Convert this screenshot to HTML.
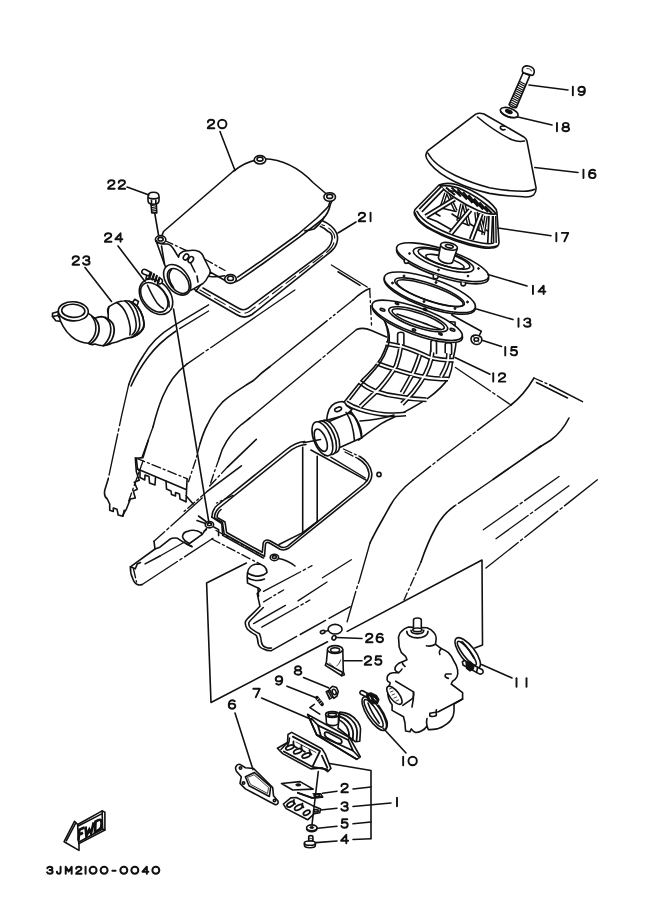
<!DOCTYPE html>
<html><head><meta charset="utf-8"><title>3JM2100-0040</title>
<style>
html,body{margin:0;padding:0;background:#fff;}
body{width:661px;height:913px;overflow:hidden;font-family:"Liberation Sans",sans-serif;}
svg{display:block;}
.l{fill:none;stroke:#111;stroke-width:1.6;stroke-linecap:round;stroke-linejoin:round;}
.w{fill:#fff;stroke:#111;stroke-width:1.6;stroke-linecap:round;stroke-linejoin:round;}
.k{fill:#111;stroke:#111;stroke-width:1;stroke-linejoin:round;}
.d{fill:none;stroke:#111;stroke-width:1.35;stroke-linecap:round;stroke-dasharray:42 3 2.5 3;}
.d2{fill:none;stroke:#111;stroke-width:1.35;stroke-linecap:round;stroke-dasharray:9 3 2 3;}
.h{fill:none;stroke:#111;stroke-width:0.8;stroke-linecap:round;}
.b{fill:none;stroke:#111;stroke-width:1.8;stroke-linecap:round;stroke-linejoin:round;}
.t{fill:none;stroke:#111;stroke-linecap:round;stroke-linejoin:round;}
.wf{fill:#fff;stroke:none;}
</style></head><body>
<svg width="661" height="913" viewBox="0 0 661 913">
<rect x="0" y="0" width="661" height="913" fill="#fff"/>
<!-- 10_body.svg -->
<g id="body">
<!-- left panel outer edge (L1) and inner parallel (L2) -->
<path class="d" d="M208.6,304.8 L172.3,326.6"/>
<path class="l" d="M172.3,326.6 C160,334 150,344 143.300,355.700 C137,365 132,375 128.700,384.700"/>
<path class="d" d="M128.700,384.700 L121.500,416.200 L108.200,479.100"/>
<path class="l" d="M108.200,479.100 L104.800,490 C104,494 105,497.500 107.300,499 L109.700,504 L109.700,510.200 L113.300,511.400 L113.300,508 L117,509.200 L118.200,515 L123,516.300 L124.200,510.200"/>
<path class="d" d="M208.6,311 L179.6,328.6"/>
<path class="l" d="M176,331 C165,338.500 156,346.500 148.500,356.500 C142,365 136,375 131,386"/>
<!-- L3 -->
<path class="d" style="stroke-dasharray:102 3 2.5 3" d="M294.8,290 L186.8,364.1"/>
<path class="l" d="M186.800,364.100 C175,373 168,384 162.600,396.800 C158,408 155.500,417 153,427"/>
<path class="d" d="M153,427 L142,457.300"/>
<!-- left panel step & teeth -->
<path class="d2" d="M136.300,458.200 L187.100,478.700"/>
<path class="l" d="M148.400,440 L143,457.600 L136.300,458.200 L137.500,469 L186,489.600 M187.100,478.700 L186,501.700 M186,495.700 L193.200,504"/>
<path class="l" d="M137.500,469 L140,471.500 L140,477.500 L144.800,480 L145,475 L149,476.500 L149.500,483 L155,485 L155.500,477.500 M166,481 L166.500,489 L171,491 L171.500,494.500 L175.500,496 L175.500,492.500 L179.500,494 L180,499 L186,501.700"/>
<path class="l" d="M135.300,457.700 L136.300,471.500 L139.200,480.300 L134.300,482.300 L137.300,489.200 L133.300,491.100 L135.300,498 L130.400,499 L126.500,508.800 L122.500,515.700"/>
<path class="d2" d="M143,461 L128.700,501"/>
<!-- L4 -->
<path class="d" d="M331.400,265 L369.700,288.600"/>
<path class="l" d="M338,271.800 L360,285.400"/>
<path class="d2" d="M369.700,288.600 L371.500,325"/>
<path class="l" d="M369.700,288.600 C366,290 360,293.500 353,300"/>
<path class="d" style="stroke-dasharray:20 3 2 3 2 3 100" d="M353,300 L270,366.500"/>
<path class="l" d="M270,366.500 C261,373 257,377 254.100,380 C242,388 231,394 222.400,402.200 C216,409 211,417 207.500,424.500 C204,431 202,437 200.100,443.500"/>
<path class="d2" d="M200.100,443.500 L195.900,459.400 L188.500,481.700"/>
<!-- L5 -->
<path class="l" d="M386.500,337 L371.500,330.500 C366,328 361.500,327.500 356.600,329.500"/>
<path class="d" style="stroke-dasharray:38 3 2.5 3 120" d="M356.600,329.500 L249.800,418"/>
<path class="l" d="M249.800,418 C246,421 243,423.500 241.400,424.500 C235,430 230,436 226.600,441.400 C223,447 220.500,453 219.200,458.400"/>
<path class="d2" d="M219.200,458.400 L213.900,473.200 L209.700,485.900"/>
<!-- L8 -->
<path class="d" d="M455.500,367.500 L511,405"/>
<!-- L9 -->
<path class="l" d="M511,405 C520,398 528,388 534,378"/>
<path class="d2" d="M534,378 L550,385"/>
<path class="l" d="M550,385 L582.500,401.600 M536.500,382.500 L567.500,398"/>
<!-- L10 -->
<path class="d" d="M511,405 L441,458 L413,480"/>
<path class="l" d="M413,480 C403,488 395,497 390,506 C383,519 376,530 370,543"/>
<path class="d" d="M370,543 L359.500,580 L356.200,590 L347.100,621.800"/>
<!-- L11 -->
<path class="l" d="M569,418 C565,426 559,434 551,440 C547,442.500 543,445 539,447.500"/>
<path class="l" d="M539,447.500 L493,479.500 M541,446 L495,478"/>
<path class="d" d="M493,479.500 L454,506.400"/>
<path class="l" d="M454,506.400 C446,512 441,518 436,527 C430,538 425,550 421,562"/>
<path class="d2" d="M421,562 L413,580 L404,600"/>
<!-- short lines -->
<path class="d" d="M559,476.500 L481,531.400"/>
<path class="d" d="M569,485.800 L496,538.700"/>
<path class="d" d="M597.400,479.800 L486,568"/>
<!-- callout box -->
<path class="l" d="M246.400,563 L206.600,583 L211,702.500 L327.500,641.800 M347.200,631.400 L482,560 L482.500,645 L474.800,648"/>
</g>

<!-- 20_tray.svg -->
<g id="tray">
<!-- outer dash-dot line above tray (left) -->
<path class="l" d="M256.300,439.300 L227.700,466.800"/><path class="d2" d="M227.700,466.800 L209.700,485.900"/><path class="l" d="M241.400,465.800 L207.500,491.200"/><path class="d2" d="M207.500,491.200 L184.200,511.300"/><path class="d2" d="M233,495.400 L216.500,503"/>
<!-- tray frame: 3 parallel lines -->
<path class="l" d="M304.800,441.500 C298,442 292,445 286,450 L217,505.500 C213.500,508.500 212,512 211.800,517.200"/>
<path class="l" d="M306,444.500 C299.500,445 294,447.500 288,452.500 L219.500,507.500 C216,510.500 214.500,513.500 214.500,518 L222.500,522.500 L224.200,534 L264.500,556.300 L265.500,544 C266,542.500 267.500,542 269,542.800 L280,549.300 C283,550.500 286,550 289,548 L366,486 C370,482.500 372.300,478 371.700,473 C371,466.500 366,460 359.900,456.500"/>
<path class="l" d="M221,509.500 C218,512 217,515 217.200,517.500 L225,522 L226.600,532.500 L262.300,552.300 L263.200,543 C264,540 267,539.300 270,540.800 L281,547 C283.500,548 285.500,547.500 288,545.800 L364,484 C367.500,481 369.300,477.500 369,473.500 C368.300,468 364,462 358,458.500"/>
<path class="l" d="M211.800,517.200 L221.800,523.600 L222.700,535.400 L263.500,558"/>
<path class="d2" d="M343.500,449 L359.900,456.500"/>
<path class="d2" d="M345,452 L358,458.500"/>
<!-- inside box -->
<path class="l" d="M302.700,447.200 L302.700,532.600 M317.200,456.300 L317.200,521.700 M310.900,450 L367,480.600"/>
<path class="l" d="M279,544.500 L302.700,532.600 M302.700,532.600 L317.200,521.700"/>
<path class="d" d="M330.800,457.200 L365.300,478"/>
<circle class="l" cx="379" cy="474.500" r="2.100"/>
<!-- front dashed double line -->
<path class="d2" d="M211.800,539 L260.800,564.400"/>
<path class="d2" d="M216,530.500 L258,553"/>
<!-- lugs -->
<ellipse class="w" cx="209.400" cy="524.700" rx="4.200" ry="3.200"/><ellipse class="l" cx="209.400" cy="524.300" rx="2" ry="1.400"/>
<ellipse class="w" cx="274.400" cy="557.400" rx="4.200" ry="3.200"/><ellipse class="l" cx="274.400" cy="557" rx="2" ry="1.400"/>
<path class="l" d="M278.500,558.500 C284,559.500 290,562 295,566"/>
<!-- bump -->
<path class="w" d="M247.500,573 C248,567.500 252,564.200 257.500,564 C263,564 267,567.500 267,572.500 C263,576.500 255,578 247.500,573 Z"/>
<path class="l" d="M247.500,573 L247.200,577.500 C252,581 259,581.500 264.500,579 M247.200,577.500 L247.500,583 L258,588 L258.500,596.500"/>
<!-- left bracket arm -->
<path class="d" d="M202.200,498 L154,541.300"/>
<path class="l" d="M154,541.300 L155,549 L159.900,547.200 L169.700,539.300 C172,538 175,537.800 177.600,538.300 L183.500,542.300 L191.400,546.200"/>
<path class="b" d="M186.500,544 L192,546.600"/>
<path class="l" d="M155,549 L130.400,566.800 L135.300,568.800 L137.300,563.900 L140.500,562.500"/>
<path class="l" d="M130.400,566.800 C130.300,571 131,575 132.400,577.700 C133.500,581 135,583.500 137.300,584.500 C139,585.200 140.800,585 142.200,584.500"/>
<path class="d" d="M142.200,584.500 L213,538.300"/>
<path class="d2" d="M133.500,569 L136.500,582"/>
<path class="l" d="M145.100,563.900 L160,556"/>
<path class="d" d="M160,556 L206.500,529.600"/>
<path class="w" d="M182.500,536.400 C183,533.500 185,531.800 187.400,531.400 C190,530.300 193,530 195.300,530.500 C198.500,531 201,532.500 202.200,534.400 L189.500,543.500 C186,541.800 183,539.500 182.500,536.400 Z"/>
<path class="l" d="M202.200,534.400 L206.500,528.500 M213.800,527 L218.600,529.600 L218.600,535.600"/>
<path class="l" d="M198.500,516 L206,521.500 M197,520.500 L205.500,523.500"/>
</g>
<g id="lowertray">
<path class="l" d="M258.500,588 L260.500,590 L257.200,593.600 L260,606.300 L250.900,615.400 C248,618 246,620 245.400,621.800 C245,624.500 245.800,627 247.300,629 C249.500,631.500 253,633.500 256.300,635.400 C257.500,638 258,641 258.200,643.600 C259,646.500 261,648.300 263.600,649 C266,650.300 268.500,650.800 270.900,650.800"/>
<path class="l" d="M263.300,607.500 L253.800,617 C251,619.500 249.300,621.500 248.800,623 C248.600,625 249.300,626.800 250.500,628 C252.500,630 256,631.800 259.500,633.800 C260.700,636.500 261.200,639.500 261.500,642.500 C262,645 263.500,646.500 265.500,647.200 C267.500,648 269.500,648.300 271.500,648"/>
<path d="M270.900,650.800 L350.700,606.300" fill="none" stroke="#111" stroke-width="1.500" stroke-dasharray="30 3"/>
<path class="d" d="M261.800,627.200 L309.900,600"/>
<path class="d" d="M253.600,623.600 L285.400,605.400"/>
<path class="d2" d="M263.600,601.800 L283.600,590"/>
<path class="d" d="M263.500,591.400 L312,565.700"/>
<path class="d" d="M298,600.900 L327,582"/>
<path class="d" d="M322.500,577.800 L351.300,559.700"/>
</g>

<!-- 30_cover.svg -->
<g id="gasket21">
<path class="l" d="M196,291 L236.5,314.5 C241,317.5 247,318 252,314.5 L331,251.5 C337,246.5 339,239 336.5,233 C334,227.5 329,223.5 322,220.5"/>
<path d="M199.5,289.8 L237.8,311.6 C241.5,313.8 246,314 250,311 L327,252 C332.5,247.5 335.500,242 334.500,236 C333.500,231.500 329,227 321.500,224.500" fill="none" stroke="#111" stroke-width="1.100" stroke-dasharray="13 4"/>
<path class="l" d="M203,288 L239,308.500 C242,310.300 245.500,310 248.500,307.800 L323,252.600 C328,249 331.500,244 332.100,239 C332.300,235 330.500,232.500 328.500,231.800 C326,229.500 323,227.500 320.300,226.300"/>
</g>
<g id="cover20">
<path class="w" d="M160.600,239.600 L163.5,231.5 L233,171.5 C242,164.5 250,161 257,160 L264,158.8 C284,159.5 300,169 313,182.5 L327,194.5 L333,199 L330.300,204.500 C329.500,209 327,214.500 323,219 L299.400,237.200 L263.100,263.500 L239.500,279.900 C237,281.500 235,282 233,282 L226,281 L210,272 L196,291 L172,262 L166,248 Z"/>
<path class="l" d="M237.700,277.100 L261.300,260.800 L297.600,234.500 L315.800,219 C321,214 326,209.500 328.500,206.300 L330,201.500"/>
<path class="l" d="M304.900,230.900 C308,230.500 311,230 314,229 C318,226 321.500,222 324,217.200"/>
<path class="d2" d="M164.5,240.5 L186,250.3 M204.5,259 L225,270.5"/>
<!-- lugs -->
<ellipse class="w" cx="260" cy="159.8" rx="5.8" ry="4.2"/><ellipse class="l" cx="260" cy="159.2" rx="3" ry="1.9"/>
<ellipse class="w" cx="329.7" cy="197" rx="5.8" ry="4.3"/><ellipse class="l" cx="329.7" cy="196.4" rx="3" ry="2"/>
<ellipse class="w" cx="230.5" cy="279" rx="5.8" ry="4.4"/><ellipse class="l" cx="230.5" cy="278.4" rx="3" ry="2.1"/>
<ellipse class="w" cx="160.6" cy="239.6" rx="5.2" ry="4"/><ellipse class="l" cx="160.6" cy="239.2" rx="2.6" ry="1.8"/>
<!-- outlet tube -->
<path class="w" d="M156,240.6 C157.5,243.5 161,244.3 167.5,244 C170.5,244.5 172.5,247 174.5,250.5 L178.5,257.2 L179.3,254.3 C182,251.500 185,250.500 188,250.700 C192,249.800 196,250.200 199,251.500 C201.500,252.800 203,255 203.800,257.700 L210,270 C210.500,272.500 209.800,274.500 208.500,276 C207,279 205.500,281.500 203,283.500 L190.800,290.400 L165,265.800 Z"/>
<path class="l" d="M208.500,276.200 C214,277.200 220,276.800 224.500,275.800"/>
<ellipse class="w" cx="177.2" cy="279.8" rx="17.2" ry="11.1" transform="rotate(53 177.2 279.8)"/>
<ellipse class="l" cx="178.3" cy="281" rx="14.1" ry="8.6" transform="rotate(53 178.3 281)"/>
<path class="l" d="M171.5,269.5 C167.5,274 168.5,281 173.5,287.5"/>
<path class="l" d="M190,262 L195,272 M198,282 L197,276"/>
<ellipse class="w" cx="186" cy="257" rx="2.3" ry="3.3" transform="rotate(35 186 257)"/>
<ellipse class="w" cx="190.8" cy="259.6" rx="2.3" ry="3.3" transform="rotate(35 190.8 259.6)"/>
</g>
<g id="screw22">
<path class="w" d="M150.900,203.500 L156.300,203.500 L156.800,213 L151.800,213 Z"/>
<path d="M151,205.200 L156.400,206.200 M151.200,207.400 L156.500,208.400 M151.400,209.600 L156.600,210.600 M151.600,211.800 L156.700,212.600" fill="none" stroke="#111" stroke-width="1.100"/>
<path class="w" stroke-width="1.800" d="M148,196.500 C148,193.500 150.500,192.300 153.500,192.300 C156.500,192.300 159,193.500 159,196.500 L159,200.500 C159,203 156.500,204.200 153.500,204.200 C150.500,204.200 148,203 148,200.500 Z"/>
<path class="l" d="M148.300,197.500 C150,199.300 157,199.300 158.800,197.500 M151.500,199 L151.500,203.800 M155.800,199 L155.800,203.800"/>
</g>
<path id="longline" class="l" d="M154.800,213.500 L158.600,235.500 M161.5,246 L164.5,264 M173.5,309 L209,523" />

<!-- 32_clamp_elbow.svg -->
<g id="clamp24">
<ellipse class="w" stroke-width="1.900" cx="156" cy="296.800" rx="19.800" ry="14.200" transform="rotate(50 156 296.800)"/>
<ellipse class="l" cx="154.300" cy="297.300" rx="17" ry="10.800" transform="rotate(50 154.300 297.300)"/>
<path class="l" d="M147.500,285.300 C150,291 153.500,298 157.500,303.600 C159.500,306 161.500,307.800 163.300,308.600"/>
<path class="l" d="M157.500,284.500 C161.500,288 165,292.500 167.400,297 C169,300.500 169.500,304 169.100,306.900"/>
<!-- screw -->
<path class="w" stroke-width="1.800" d="M142,270.800 C142.800,269.300 144.500,269 146,269.800 L150.500,272.300 L148.800,276 L143.500,274 C142,273.300 141.500,272 142,270.800 Z"/>
<path class="l" d="M146.600,276 L146,279 L150,278"/>
<path d="M151.300,272.800 L149.500,277.500 M154,274.300 L152.200,279.500 M156.800,276 L155,281.300 M159.500,277.800 L157.800,283" stroke="#111" stroke-width="2.300" stroke-linecap="round" fill="none"/>
<path class="w" stroke-width="1.600" d="M160.500,278.500 C162,279 162.800,280.500 162.300,282 C161.800,283.500 160.500,284.300 159,283.800"/>
</g>
<g id="elbow23">
<path class="w" d="M52.500,313.300 L58.500,311.500 L62.500,318.300 L62.500,321.600 L55.800,320.800 L52.500,316.500 Z"/>
<path class="l" d="M52.500,316.500 L58,315.500 L62.500,321.600 M58,315.500 L58.500,311.500"/>
<!-- body -->
<path class="w" d="M59.100,316.600 C60,320.500 61.500,323.500 63.300,326.600 C65.500,330.500 68.500,334 71.600,336.600 C74,338.800 77,340.500 79.900,341.600 C83,342.700 86,343.200 88.300,343.300 L89.900,344.100 C91.500,344.800 93.500,344.700 94.900,344.100 C98,345.300 101,345.800 103.200,345.800 C104.500,345.800 105.800,345.500 106.600,344.900 C108.500,344.800 110,344.200 111.600,343.300 C115,342.500 118.500,341.300 121.600,339.900 C125,338.800 128.500,337.700 131.500,337.400 C135.500,336 139.500,333.500 141.500,330.800 C143.500,328.500 144.300,326 144,323.300 C143.800,319 142.500,315 140.700,311.600 C138.800,308 136.200,304.800 133.200,302.500 C130.500,301.200 127.800,300.700 124.900,300.800 C122,300.800 119,301.500 116.600,302.500 C114,303.500 111.500,305 109.100,306.600 C108.300,308.800 108,311 108.200,313.300 L108.200,319.100 C106,317.500 103.800,316.700 101.600,316.600 C99,316.600 96.800,317.300 94.900,318.300 C92.500,316.300 90.300,314.600 88.300,313.300 Z"/>
<ellipse class="w" cx="73.300" cy="311.300" rx="15" ry="9.600" transform="rotate(3 73.300 311.300)"/>
<ellipse class="l" cx="73.300" cy="310.800" rx="11.600" ry="6.600" transform="rotate(3 73.300 310.800)"/>
<!-- ring 1 -->
<path class="b" stroke-width="2.200" d="M94.900,318.300 C97.500,321 99,324.500 99.100,328.300 C99.200,332.500 97.800,336.500 94.900,339.900 C93.500,341.600 91.800,343.100 89.900,344.100"/>
<path class="l" d="M91.800,316.500 C94.500,319.500 95.800,323.500 95.900,327.500 C96,332 94.500,336.500 91.500,340 C90.500,341.200 89.500,342.300 88.300,343.300"/>
<!-- ring 2 -->
<path class="b" stroke-width="2.200" d="M108.200,319.100 C111.500,321.300 113.800,324.500 114.100,328.300 C114.500,332.500 113.500,336.500 111.600,339.900 C110.300,342 108.600,343.700 106.600,344.900"/>
<path class="l" d="M105,317.500 C108.500,320 110.500,323.800 110.800,328 C111,332.500 109.800,337 107.500,340.500 C106.300,342.500 104.800,344.300 103.200,345.800"/>
<!-- notch on top -->
<path class="l" d="M109.100,306.600 C107.500,308.500 107.500,311.500 108.200,313.300"/>
<!-- flange rings -->
<path class="b" stroke-width="2.600" d="M133.200,302.500 C136.500,304.800 139,308 140.700,311.600 C142.500,315.300 143.800,319.500 144,323.300 C144.200,326.500 143.300,329 141.500,330.800 C139,333.800 135.500,336 131.500,337.400"/>
<path class="l" d="M129,301.200 C132.500,303.500 135.500,307.500 137.200,311.800 C138.800,316 139.800,320.500 139.800,324.500 C139.800,329 137.500,332.800 134,335.200"/>
<path class="l" d="M124.900,300.800 C128.500,303.500 131.500,307.500 133.300,311.800 C135,316 136,320 136.200,324 C136.400,328.500 135,332.500 132,335"/>
<path class="l" d="M116.600,302.500 C121,305 124.500,309.500 126.600,314.500 C128.500,319 129.800,323.500 130.200,327.500 C130.500,330.500 130.300,333 129.900,334.900"/>
<path class="w" d="M133,301.800 L134.800,299.300 L138.500,301.500 L137.300,304.800"/>
</g>

<!-- 40_filter_top.svg -->
<g id="bolt19">
<path class="w" d="M523.1,72.7 L529.9,75.4 L516.3,107.6 C514,108.300 510,106.500 509.1,104.5 Z"/>
<path d="M519.3,81.3 L526.0,84.7 M518.5,83.1 L525.2,86.6 M517.7,85.0 L524.4,88.5 M516.9,86.9 L523.6,90.4 M516.1,88.7 L522.8,92.3 M515.2,90.6 L522.0,94.1 M514.4,92.4 L521.2,96.0 M513.6,94.3 L520.4,97.9 M512.8,96.1 L519.6,99.8 M512.0,98.0 L518.8,101.6 M511.2,99.8 L518.0,103.5 M510.3,101.7 L517.2,105.4 M509.5,103.5 L516.4,107.3" fill="none" stroke="#111" stroke-width="1.150"/>
<path class="w" d="M522.300,70.800 C521.800,67.500 524.500,65.300 528.500,66 C532.500,66.700 534.800,69.200 534.200,72.300 C533.800,74.500 532.800,75.500 531.500,75.300 L523.500,72.800 C522.800,72.300 522.400,71.600 522.300,70.800 Z"/>
<path class="h" d="M527,68.500 C529,68.300 531,69.300 531.500,71"/>
</g>
<g id="washer18">
<ellipse class="w" cx="509.2" cy="112.6" rx="9.3" ry="4.4" transform="rotate(20 509.2 112.6)"/>
<ellipse class="k" cx="508.8" cy="111.6" rx="3.6" ry="1.7" transform="rotate(20 508.8 111.6)"/>
<path class="l" d="M500.800,111.500 C503,115.500 512,118.800 517.500,117"/>
</g>
<g id="cone16">
<path class="w" d="M475.4,114.4 C478,112.800 481,113 484,114 L523.500,136.700 C525.500,138 526.500,139.300 526.900,140.800 L536,187.700 C536.300,191 535.500,193 533.700,194.800 C531,197 527,197.300 523.500,196.800 C512,196.300 500,195.200 489.400,193.400 C477,190.500 465,186.500 455.400,182 C445,177 436,171 430.400,164 C427.500,160.500 425.500,157.500 425.900,154.800 C426.200,153 427,151.500 428.200,150.300 Z"/>
<path class="l" d="M477.500,117 C488,126 500,134 512,139.800 C516,141.300 521,141.800 524.500,141"/>
<path class="l" d="M427.800,153 C432,161 442,169 455.400,175.500 C466,180.500 478,184.800 489.400,187.700 C501,190 512,191.200 523.500,191.200 C528,191.200 532,190.700 534.500,189.300"/>
<path class="l" d="M504.500,126.300 C502,125.500 500,126.500 500.300,128 C500.600,129.500 503,130.300 505,129.600"/>
</g>
<g id="basket17">
<path class="w" d="M439,185 C444,183 450,183 456,184.500 C464,186.500 471,190 477,193.500 C485,198 492,203.500 496.200,209.500 L497,213 L499,242.200 C499,245 497,247 494.400,247.800 C490,248.500 486,248.300 481.700,247.600 C472,246 463,243.500 454.500,240.400 C444,236.500 435,232 427.200,227.700 C421,224 416.500,219 414.500,214.500 C414,212.500 414.200,211 415,209.500 Z"/>
<!-- back ribs -->
<path d="M446,193 L441,208 M448,194 L456,211 M462,204 L458,221 M464,205 L469,225 M476,212 L478,230 M479,213.500 L484,232 M486,216 L483,235 M494.500,216 L495,243" fill="none" stroke="#111" stroke-width="3.800" stroke-linecap="butt"/>
<path d="M446,193 L441,208 M448,194 L456,211 M462,204 L458,221 M464,205 L469,225 M476,212 L478,230 M479,213.500 L484,232 M486,216 L483,235 M494.500,216 L495,243" fill="none" stroke="#fff" stroke-width="1" stroke-linecap="butt"/>
<path class="l" stroke-width="1.300" d="M441,208 L456,211.500 M458,221 L469,225.500 M478,230 L484,232.500 M428,218 L437,221.500 L452,230 M433,212 L440,216 M452,214 L459,218.500 M470,224 L476,227.500 M486,230 L491,232.500"/>
<!-- top ring (dark patterned) -->
<path d="M440,185.800 C449,185 457,187 464,190.500 C472,194.500 480,199.500 486,204.500 C490.500,208 494,211 496,214 C490,214.500 484,213 478,210.500 C470,207 462,202.500 456,198.500 C450,194.500 444,190.500 440,185.800 Z" fill="#fff" stroke="#111" stroke-width="1.700"/>
<path d="M446,187.500 L455,195 M451.500,187.500 L461,196.500 M457.500,189.300 L467,199.500 M463,191.800 L472.500,203 M468.500,195 L478,206.500 M474,198.500 L483,209.500 M479.500,202.300 L488,212 M485,206.300 L492,213.500" fill="none" stroke="#111" stroke-width="2"/>
<path d="M448,190.800 C455,190 461,193 466.500,197 C472,201 478,205.500 485,209" fill="none" stroke="#111" stroke-width="1.400"/>
<!-- bottom rim inner -->
<path class="l" stroke-width="1.900" d="M417,211.300 C420,217 426,222 433,226 C440,230 447,233 454.500,235.800 C463,239 472,241.300 481.700,243 C486,243.700 490,243.800 493,243.300"/>
<!-- front ribs -->
<path d="M442.4,188.1 L420.6,210.5 M454.5,199 L425.8,216.5 M470.2,209.9 L450.8,233.5 M481.1,213.6 L471.4,239.5 M490.8,216 L489.6,243" fill="none" stroke="#111" stroke-width="5.400" stroke-linecap="butt"/>
<path d="M442.4,188.1 L420.6,210.5 M454.5,199 L425.8,216.5 M470.2,209.9 L450.8,233.5 M481.1,213.6 L471.4,239.5 M490.8,216 L489.6,243" fill="none" stroke="#fff" stroke-width="2" stroke-linecap="butt"/>
<path class="l" stroke-width="2" d="M414.800,212.500 C417,219.500 424,225.500 433,230 C447,237 465,243.500 482,246.500 C488,247.500 493,247.500 497,246"/>
</g>

<!-- 42_filter_low.svg -->
<g id="joint12">
<!-- body -->
<path class="w" d="M383,318 C386.500,324 388.500,330 388.100,339 C387,345 384,352 381.200,357.400 C376,366 369,373 362.500,379 L346.800,398.700 L342.200,404.400 L350,412 L358.600,440 C366,434.500 373,429 381.700,423.400 C389,419.500 397,416 403.800,412.400 C412,408 420,403.500 427.400,398.700 C436,392.500 444,385.500 449.100,377 C451.500,371 452.500,365 453,359.300 C454.500,353 455.500,348 455.900,343.600 L455,322 Z"/>
<path d="M386,343.5 C392,344.5 397,345.5 402,346.6 C412,349.5 421,353.5 429.4,357.4 C437,359.5 445,360.3 453.500,360.3 M377.3,363.3 C383,365.5 388,367.3 394,369.2 C404,372.5 414,375.5 423.5,377 C431,378.5 439,379 448,379 M359.6,382 C364,385.5 369,388.5 374.3,390.8 C383,394 391,395.8 399.9,396.7 C408,398.5 417,399.5 426.500,399.7 M345.8,402.6 C350,405.5 355,407.8 360.6,409.5 C368,412 376,413.5 384.2,414.4 C391,415 398,415 405.8,414 M400.9,333 L400.9,346 C400,353 398.5,359 396,366 C391,374 386,381 380.2,387.5 C374,394 367,400 360.6,406.500 M433.3,343 L431.4,358 C430,364 428,369 425.5,374 C422,380 418,386 413.7,391.5 C410,396 406,400 402,404 M419.6,355.5 C418,361 416,366 413.7,371.500 C410,379 406,386 401.9,393 M449.100,345 L448.100,360 C447,366 444.500,371 441.200,376.500" fill="none" stroke="#111" stroke-width="5" stroke-linecap="butt" stroke-linejoin="round"/>
<path d="M386,343.5 C392,344.5 397,345.5 402,346.6 C412,349.5 421,353.5 429.4,357.4 C437,359.5 445,360.3 453.500,360.3 M377.3,363.3 C383,365.5 388,367.3 394,369.2 C404,372.5 414,375.5 423.5,377 C431,378.5 439,379 448,379 M359.6,382 C364,385.5 369,388.5 374.3,390.8 C383,394 391,395.8 399.9,396.7 C408,398.5 417,399.5 426.500,399.7 M345.8,402.6 C350,405.5 355,407.8 360.6,409.5 C368,412 376,413.5 384.2,414.4 C391,415 398,415 405.8,414 M400.9,333 L400.9,346 C400,353 398.5,359 396,366 C391,374 386,381 380.2,387.5 C374,394 367,400 360.6,406.500 M433.3,343 L431.4,358 C430,364 428,369 425.5,374 C422,380 418,386 413.7,391.5 C410,396 406,400 402,404 M419.6,355.5 C418,361 416,366 413.7,371.500 C410,379 406,386 401.9,393 M449.100,345 L448.100,360 C447,366 444.500,371 441.200,376.500" fill="none" stroke="#fff" stroke-width="1.900" stroke-linecap="round" stroke-linejoin="round"/>
<!-- left edge rib highlight -->
<path class="l" d="M385.500,323 C389.500,331 390.500,339 388,346.500 C386,352.500 383.500,358 380,363 C374.500,370.500 368,377 362,384 L350,399.500"/>
<path class="l" d="M360,421 C371,420.500 383,418.500 394,415"/>
<!-- tabs -->
<path class="w" stroke-width="1.800" d="M397.600,343 L397.600,334.300 C397.600,331.600 403.900,331.600 403.900,334.300 L403.900,344.500"/>
<path class="w" stroke-width="1.800" d="M430.900,351.500 L430.900,342.300 C430.900,339.600 436.500,339.600 436.500,342.300 L436.500,353.500"/>
<path class="w" stroke-width="1.800" d="M445.200,352.800 L445.200,344.700 C445.200,342 451.600,342 451.600,344.700 L451.600,354.300"/>
<!-- flange -->
<ellipse class="w" cx="417.4" cy="322.400" rx="47.800" ry="12.500" transform="rotate(20 417.4 322.400)"/>
<ellipse class="w" cx="417.2" cy="320.300" rx="47.800" ry="12.500" transform="rotate(20 417.2 320.300)"/>
<ellipse class="l" cx="418.2" cy="319.300" rx="31" ry="8.200" transform="rotate(18.700 418.2 319.300)"/>
<ellipse class="l" cx="418.2" cy="319.300" rx="27.500" ry="6" transform="rotate(18.700 418.2 319.300)"/>
<path class="l" d="M397,314 L428,324.500 M423,323 L441,329.500"/>
<ellipse class="l" cx="382.500" cy="309.800" rx="2.500" ry="1.100" transform="rotate(20 382.500 309.800)"/>
<ellipse class="l" cx="452.500" cy="329.800" rx="2.500" ry="1.100" transform="rotate(20 452.500 329.800)"/>
<ellipse class="l" cx="397" cy="303.500" rx="1.800" ry="0.900" transform="rotate(20 397 303.500)"/>
<ellipse class="l" cx="440.500" cy="334" rx="1.800" ry="0.900" transform="rotate(20 440.500 334)"/>
<ellipse class="l" cx="425" cy="309.500" rx="1.800" ry="0.900" transform="rotate(20 425 309.500)"/>
<ellipse class="l" cx="414" cy="329.800" rx="1.800" ry="0.900" transform="rotate(20 414 329.800)"/>
<!-- mount tab -->
<path class="w" stroke-width="1.900" d="M326.600,420.300 C327,416 327.800,412.500 329.100,409.400 C330.500,406.500 332.500,404.500 335.100,403.300 C337.500,402.200 340,401.500 342.400,401.500 C344.500,402 346,403.500 346.600,405.700 L352,409.500 L346,415 Z"/>
<ellipse class="l" cx="338.100" cy="409.300" rx="3.600" ry="2" transform="rotate(-20 338.100 409.300)"/>
<!-- outlet tube -->
<path class="w" d="M329.100,421.500 L346,414.200 C349.500,412 353,414 356.500,419.500 C360,425.500 362,432 361.700,437.800 L338.700,448.100 Z"/>
<path class="l" stroke-width="1.900" d="M346,412.400 C350,418 353.500,428 354.500,440.800"/>
<path class="l" stroke-width="1.900" d="M350.800,411.200 C355.500,417 360,427 361.700,437.800"/>
<ellipse class="w" stroke-width="2" cx="329.800" cy="436.500" rx="8" ry="17.300" transform="rotate(-22 329.800 436.500)"/>
<ellipse class="w" stroke-width="2.200" cx="326.300" cy="437.700" rx="8.300" ry="17.800" transform="rotate(-22 326.300 437.700)"/>
<ellipse class="w" stroke-width="2" cx="322.400" cy="438.800" rx="8.600" ry="18" transform="rotate(-22 322.400 438.800)"/>
<ellipse class="l" cx="320.800" cy="440.200" rx="5.300" ry="11.800" transform="rotate(-22 320.800 440.200)"/>
<path class="l" d="M303.500,442.800 L320.500,439.500"/>
</g>
<g id="nut15">
<path class="l" stroke-width="1.400" d="M453.200,311.800 L451.800,315 L481.300,331.300 L479,336"/>
<path class="w" stroke-width="1.800" d="M471,338.500 C471.500,336 474,334.800 477,335.200 C480,335.600 482,337.500 481.800,340 C481.500,343 479,344.800 476,344.500 C473,344.200 470.800,341.500 471,338.500 Z"/>
<ellipse class="l" cx="476.300" cy="339.500" rx="2.300" ry="1.700"/>
<path class="h" d="M473.500,336.300 L474.500,338.500 M479.500,336.500 L478.300,338.700 M473.800,343 L475,341 M479.300,343 L478,341"/>
</g>
<g id="gasket13">
<ellipse class="w" cx="429.8" cy="293.900" rx="48" ry="13.800" transform="rotate(19 429.8 293.900)"/>
<ellipse class="w" cx="429.8" cy="292.300" rx="48" ry="13.800" transform="rotate(19 429.8 292.300)"/>
<ellipse class="w" cx="429.600" cy="292.200" rx="36.800" ry="8.400" transform="rotate(19 429.600 292.200)"/>
<ellipse class="l" cx="430" cy="293.200" rx="35" ry="7.400" transform="rotate(19 430 293.200)"/>
<g class="k"><circle cx="392.500" cy="283" r="1"/><circle cx="404" cy="276" r="1"/><circle cx="436" cy="282.500" r="1"/><circle cx="424" cy="301.500" r="1"/><circle cx="455" cy="308.500" r="1"/><circle cx="467.500" cy="302" r="1"/></g>
</g>
<g id="plate14">
<ellipse class="w" cx="442.6" cy="264.400" rx="48.300" ry="12.800" transform="rotate(18.3 442.6 264.400)"/>
<ellipse class="w" cx="442.6" cy="262.200" rx="48.300" ry="12.800" transform="rotate(18.3 442.6 262.200)"/>
<ellipse class="l" cx="443.500" cy="259.800" rx="31.500" ry="8.600" transform="rotate(17.500 443.500 259.800)"/>
<ellipse class="l" cx="444" cy="258.800" rx="27" ry="6.600" transform="rotate(17.500 444 258.800)"/>
<ellipse class="l" cx="445" cy="261.500" rx="20" ry="4.300" transform="rotate(17.500 445 261.500)"/>
<!-- post -->
<path class="w" d="M440.400,246 L438.400,258 C440,262.500 449,265 452.500,262.500 L457.300,248.500 Z"/>
<ellipse class="w" cx="449" cy="246.300" rx="8.600" ry="3.600" transform="rotate(12 449 246.300)"/>
<ellipse class="l" cx="449.300" cy="246.300" rx="4" ry="1.600" transform="rotate(12 449.300 246.300)"/>
<g class="k"><circle cx="409.500" cy="253.500" r="0.900"/><circle cx="438.500" cy="270" r="0.900"/><circle cx="468" cy="276" r="0.900"/><circle cx="478.500" cy="268.500" r="0.900"/></g>
<!-- studs -->
<path class="w" d="M404.300,259.500 L404.300,262 C404.800,263.800 408,263.800 408.500,262 L408.500,261.500"/>
<path class="w" d="M433.300,274.500 L433.300,277.500 C433.800,279.300 437.500,279.300 438,277.500 L438,276"/>
<path class="w" d="M461,282 L461,284.500 C461.500,286.300 465,286.300 465.500,284.500 L465.500,283"/>
</g>

<!-- 50_lower.svg -->
<g id="clip26" class="l">
<ellipse cx="335.1" cy="629.2" rx="7" ry="4.800"/>
<path d="M328.500,630.500 L325.200,631.200"/>
<ellipse cx="322.700" cy="632" rx="2.400" ry="1.500" transform="rotate(-15 322.700 632)"/>
<ellipse cx="334" cy="637.800" rx="1.900" ry="2.300" transform="rotate(30 334 637.800)"/>
</g>
<g id="part25">
<path class="w" d="M327.500,650 L326.400,662.100 L325.300,665.400 L341.700,675.800 L344.400,674.700 L343.300,671.900 L342.800,650 Z"/>
<path class="l" d="M326.900,663.700 L342.800,672.500 M341.700,675.800 L342.500,672.500"/>
<path class="h" d="M329.500,663 C331,665 332.500,666 333.500,666.500 M336.800,666 C338.500,664.500 340,662 340.600,660"/>
<ellipse class="w" cx="335.100" cy="649.500" rx="7.700" ry="3.900"/>
<ellipse class="l" stroke-width="2" cx="335.100" cy="650" rx="4.500" ry="2.300"/>
</g>
<g id="screw8">
<path d="M326,691.500 L330,689.800 L333.500,696.800 L329.500,699.300 Z" fill="#111" stroke="#111" stroke-width="1.300" stroke-linejoin="round"/>
<path d="M327.800,692.500 L330.800,698 M329.800,691.300 L332.500,697" stroke="#fff" stroke-width="0.700" fill="none"/>
<path class="w" stroke-width="1.800" d="M329.300,689 L332.500,686.300 L336.500,687.500 L338.300,691.500 L337,696 L333.800,698.300 Z"/>
<ellipse class="l" cx="334.200" cy="692" rx="1.800" ry="2.800" transform="rotate(-25 334.200 692)"/>
</g>
<g id="spring9">
<path d="M317,697.800 L322,704.200" stroke="#111" stroke-width="3.800" stroke-linecap="round" fill="none"/>
<path d="M316.800,700 L319.300,698 M318.300,702 L320.800,700 M319.800,704 L322.300,702" stroke="#fff" stroke-width="0.700" fill="none"/>
</g>
<path class="l" d="M314.300,704.300 L309.900,707.600 L319.800,714.100"/>
<g id="manifold7">
<!-- boot rings -->
<path class="w" stroke-width="2" d="M339.800,712.100 C347,712.300 353.500,716 357.500,721.500 C360,725 361,728.500 360.400,731.500 L359.800,741.200 L355.500,741.800 L338,728 Z"/>
<path class="b" stroke-width="2.300" d="M337.200,713.600 C344.500,714 350.500,717.500 354.300,723 C356.800,726.800 357.500,731 357,735 L356.500,741"/>
<path class="b" stroke-width="2" d="M335,715.500 C341.500,716.300 347,719.800 350.500,725 C352.800,728.800 353.500,732.500 353,736 L352.800,740"/>
<path class="l" d="M333,717.800 C339,718.800 343.500,722 346.800,727 C348.800,730.500 349.500,734 349,737.500"/>
<!-- plate -->
<path class="w" stroke-width="2.200" d="M307.700,714.500 L349.500,737.500 L360.400,756.900 L356.700,759.300 L316.800,735.100 Z"/>
<path class="b" stroke-width="2.400" d="M307.700,714.500 L316.800,735.100 L356.700,759.300"/>
<path class="b" stroke-width="2.300" d="M318,725.400 L348.300,740 L353.100,750.800 L321,736.300 Z"/>
<path class="l" d="M311.500,718.500 L318,725.400 M348.300,740 L349.500,737.500 M353.100,750.800 L358.500,756.500 M321,736.300 L317.500,735"/>
<path class="b" stroke-width="2" d="M324.500,733.800 C324.500,732 326.500,731.800 328.500,732.800 L340,738.800 C342,740 342.500,742.200 341,743.200 C339.500,744 337.500,743.500 335.500,742.500 L326.500,737.500 C325.200,736.500 324.500,735.200 324.500,733.800 Z"/>
<!-- tube -->
<path class="w" d="M325.900,714.700 L326.500,723.500 C329,726.300 336,726.300 338.300,723.800 L338.600,714.700 Z"/>
<ellipse class="w" stroke-width="2" cx="332.300" cy="714.500" rx="6.700" ry="2.900"/>
<ellipse class="l" cx="332.300" cy="714.700" rx="4.200" ry="1.600"/>
</g>
<g id="clamp10">
<ellipse class="w" stroke-width="2" cx="374.300" cy="713.600" rx="19.600" ry="7.200" transform="rotate(57 374.300 713.600)"/>
<ellipse class="l" cx="373.600" cy="713.300" rx="16.200" ry="4.300" transform="rotate(57 373.600 713.300)"/>
<path class="b" stroke-width="3" d="M378.500,705.500 C382,710 385,715.500 386.800,721 C387.600,724 387.300,727 385.500,729.200"/>
<path class="l" d="M368,703 C370,709 374,716 379.200,723.200"/>
<!-- screw -->
<path class="w" stroke-width="1.900" d="M360,692 C360.600,690.500 362,690.300 363.300,691 L368.500,694 L366.800,697 L361.300,694.500 C360.200,694 359.700,693 360,692 Z"/>
<path d="M367,693.500 L371,692.800 L376.500,695.500 L379,699.500 L377.500,703.500 L372.500,703.800 L368.500,700.500 L366.500,697 Z" fill="#111" stroke="#111" stroke-width="1.200"/>
<path d="M369.500,696.500 L371,699.500 M373.800,697.800 L376,700.500" stroke="#fff" stroke-width="0.900" fill="none"/>
</g>
<g id="clamp11">
<ellipse class="w" stroke-width="2" cx="467.700" cy="653" rx="18.600" ry="7.200" transform="rotate(52.4 467.700 653)"/>
<ellipse class="l" cx="466.800" cy="653.300" rx="14.800" ry="3.700" transform="rotate(52.4 466.800 653.300)"/>
<path class="l" d="M462,641.500 C466,645.500 470.500,651.500 474,658"/>
<!-- screw -->
<path class="w" stroke-width="1.900" d="M462.400,661.800 L464.500,660.500 L482,669.500 C483.300,670.500 483.500,672.300 482.500,673.300 C481.500,674.300 480,674.300 478.800,673.600 L463,665 Z"/>
<path d="M466,662.500 L470.500,662 L474,665 L473.500,669 L470,671 L466.500,668.500 Z" fill="#111" stroke="#111" stroke-width="1.200"/>
<path class="l" d="M477.500,668 L476.500,672.500"/>
</g>
<g id="carb">
<path class="w" d="M398.500,637.100 C398.800,634.500 399.800,632.800 401.400,631.400 C403.500,629.300 405.800,627.900 408.500,627.100 L427,627.800 C430,628.800 432.500,630.500 434.100,632.800 C435.500,634.500 436.200,636.500 436.200,638.500 L435.500,644.200 C437.500,645.800 439.300,647.300 441.200,648.500 C443.800,649.600 446.200,651 448.400,652.700 C450.800,655 452.500,658 454,661.300 C455.800,664 457,667 457.600,669.800 C458,672.500 457.800,675 456.900,676.900 C455.800,679 454.300,680.300 452.600,681.200 L451.200,684 L462.600,692.600 L462.600,699 L454,704 L454,705.400 C454.300,709 454,712.500 453.300,715.400 C452,719 449.800,721.800 446.900,723.900 C444,726.300 440.500,728 437,728.900 C434,729.500 431,729.700 428.400,729.600 L427,726 C425.500,728.500 423.500,730 421.300,731 C419.500,732 417.500,732.500 415.600,732.500 C413.800,731.800 412.300,730.500 411.300,728.900 L409.900,731.800 L405.600,731 L404.900,722.500 L403.500,716.800 L392.100,710.400 L392.100,704.700 C389,701 387.300,696 387.800,690 C388,687.500 388.800,685.500 390,684 L390,682.600 C388.300,682 387.300,681 387.100,679.800 C386.900,678 387.200,676.500 387.800,675.500 C389,673.800 390.800,672.800 392.800,672.700 L398.500,672.700 C396.500,671.800 395.300,670.800 395,669.800 C394.800,667.800 395.500,666 397,664.800 C398.500,663.300 400.300,662.400 402,662 L407,659.800 L405.600,656.300 L401.400,652.700 L399.200,647 Z"/>
<!-- top pin -->
<path class="w" d="M413.500,629 L413.500,620 C413.500,617.300 421.300,617.300 421.300,620 L421.300,629"/>
<ellipse class="l" cx="417.400" cy="629.800" rx="4.600" ry="1.800"/>
<path class="l" d="M411,630.300 C411,635 423.800,635 423.800,630.300 M406.800,631.300 C406.800,640 428,640 428,631.300"/>
<path class="l" d="M435.500,644.200 C432.500,646 429.500,646.500 426.500,645.800 M441.200,648.500 C439.500,650.300 439,652.500 439.800,654.500"/>
<!-- left port -->
<ellipse class="w" cx="394.400" cy="695.300" rx="10.900" ry="4.600" transform="rotate(52 394.400 695.300)"/>
<path class="l" d="M395.700,681.200 L413.500,691.900 C414,694 413.700,696.300 412.800,698.300 L402.800,705.400"/>
<path class="h" d="M389.500,689 L391.800,688 M390.500,692 L393,691 M392,695 L394.500,694 M394,698 L396.500,697 M396,701 L398.500,700"/>
<!-- misc interior -->
<path class="l" d="M402,662 C402.500,664 403.500,665.500 405,666.500 M398.500,672.700 C400,671.800 401.300,670.500 402,669"/>
<path class="l" d="M451.200,674 L446.200,674 C445,674.500 444.800,676 445.500,676.900 C446.300,677.800 447.300,678.300 448.400,678.400"/>
<path class="l" d="M462.600,699 L438.400,711.800 L429.800,713.200 L429.800,716 C432,716.800 434.500,716.500 436.300,715.500 L436.300,709.700"/>
<path class="l" d="M427,726 C426.300,723.500 426.300,721 427,718.500"/>
<path class="l" d="M413.500,691.900 C413.800,697 413.300,702 412,707"/>
</g>

<!-- 55_reed.svg -->
<g id="gasket6">
<path class="w" stroke-width="2.600" d="M235.900,766.600 C237,764.500 238.500,764 240,764.400 L245.400,767.700 L253.600,768.500 L272.700,787.600 L273.500,795.700 L278.100,801.200 C278.500,803.500 277.300,804.700 275.400,804.700 L268.600,801.200 L245.400,788.900 L240,783.500 L241.300,776.700 L236.400,771.200 C235.500,769.500 235.400,767.800 235.900,766.600 Z"/>
<path class="l" stroke-width="2.300" d="M245.400,776.700 L254.400,772.600 L270.700,786.700 L269.400,796.500 L249,785.700 Z"/>
<path class="h" d="M247.800,777.300 L254,774.800 L268.500,787.500 L267.600,793.500 L250.800,784.500 Z"/>
<circle class="l" cx="240.500" cy="768" r="1.200"/><circle class="l" cx="274.500" cy="800.500" r="1.200"/><circle class="l" cx="243.500" cy="783" r="1.200"/>
</g>
<g id="reed">
<path class="w" stroke-width="2.900" d="M277.400,748.300 L287.500,742.500 L288,734.500 L291.700,732.400 L321.900,748.800 L325.100,753.600 L330.900,768.400 L327.700,771.600 L322.400,767.900 L310.800,768.900 L282.700,753.600 Z"/>
<path class="b" stroke-width="2.400" d="M292.800,736.600 L319.800,750.900"/>
<path class="b" stroke-width="2.200" d="M283.800,751.500 L311.300,766.300"/>
<path class="b" stroke-width="2" d="M319.800,751.500 L312.400,766.800 L327.200,769.500 M321.900,755.700 L327.200,767.400"/>
<path class="l" d="M289.500,738 C289.500,741 288.800,743.500 287.500,745.500 M287.500,742.500 L281,749.500"/>
<ellipse class="b" stroke-width="2" cx="289.800" cy="747.400" rx="4.300" ry="2" transform="rotate(-22 289.800 747.400)"/>
<ellipse class="b" stroke-width="2" cx="297.700" cy="751.200" rx="4.300" ry="2.100" transform="rotate(-22 297.700 751.200)"/>
<ellipse class="b" stroke-width="2" cx="306.200" cy="755.500" rx="4.300" ry="2.100" transform="rotate(-22 306.200 755.500)"/>
<path class="b" stroke-width="1.800" d="M293.500,741.500 C293,744.500 294.500,747 297,747.800 M301.500,745.500 C301,748.500 302.500,751 305,751.800 M309.500,750 C309.500,752 310,753.500 311.500,754.500"/>
<path class="h" d="M296,742 L316,752.500"/>
</g>
<g id="plate2">
<path class="w" stroke-width="2.300" d="M281.500,783.500 L300.100,781.600 L313.200,789.100 L292.700,790 Z"/>
<ellipse class="k" cx="298.300" cy="784.900" rx="2.600" ry="1.100"/>
<path class="w" stroke-width="2.300" d="M297.800,792.800 L312.200,797.900 L322.500,797 L320.600,793.700 L313.200,793.700"/>
<path class="b" stroke-width="2.500" d="M297.800,792.800 L312.200,797.900 L322.500,797"/>
<ellipse class="l" cx="316.800" cy="795.300" rx="2.800" ry="1.200"/>
</g>
<g id="plate3">
<path class="w" stroke-width="2.400" d="M283.400,804 L290.800,797.900 L296.400,797.500 L312.200,805.400 L320.600,809.100 L319.700,812.800 L314.100,813.800 L307.600,819.800 L286.200,808.600 Z"/>
<ellipse class="b" stroke-width="2" cx="290.600" cy="804.300" rx="4" ry="2.100" transform="rotate(-30 290.600 804.300)"/>
<ellipse class="b" stroke-width="2" cx="298.700" cy="807.400" rx="4.500" ry="2.100" transform="rotate(-30 298.700 807.400)"/>
<ellipse class="b" stroke-width="2" cx="306.700" cy="812.800" rx="3.600" ry="2" transform="rotate(-30 306.700 812.800)"/>
<path class="b" stroke-width="1.600" d="M294,800 C293,801.500 293.500,803 295,803.800 M302.500,803.500 C301.500,805 302,806.500 303.500,807.300"/>
<ellipse class="l" cx="316" cy="810.800" rx="2.400" ry="1.200"/>
</g>
<path class="l" stroke-width="1.200" d="M318.300,771.500 L311.800,826"/>
<g id="washer5">
<ellipse class="w" stroke-width="1.900" cx="311.800" cy="828.800" rx="5.200" ry="2.900"/>
<ellipse class="w" stroke-width="1.900" cx="311.800" cy="827.800" rx="5.200" ry="2.900"/>
<ellipse class="k" cx="311.800" cy="827.500" rx="1.900" ry="0.900"/>
</g>
<g id="screw4">
<path class="w" stroke-width="1.900" d="M308.700,836.800 C308.700,835.200 312.900,835.200 312.900,836.800 L312.900,843 L308.700,843 Z"/>
<path class="h" d="M308.700,838 L312.900,839 M308.700,840 L312.900,841"/>
<path class="w" stroke-width="1.900" d="M304.400,843 C304.400,840.300 315.400,840.300 315.400,843 L315.400,845.300 C315.400,848.500 304.400,848.500 304.400,845.300 Z"/>
<path class="l" d="M304.400,843.200 C304.400,846 315.400,846 315.400,843.200"/>
</g>

<!-- 90_leaders.svg -->
<g id="leaders" class="l">
<path d="M220,131.5 L235,170.5"/>
<path d="M127,187 L149,195"/>
<path d="M118,246 L145,281.5"/>
<path d="M85,267.5 L111.5,301.5"/>
<path d="M356,222 L338,233"/>
<path d="M529,85 L568,90"/>
<path d="M518,117 L552,125"/>
<path d="M534.8,167.5 L578,172.5"/>
<path d="M498,228 L551,235.7"/>
<path d="M488,274.6 L527,286"/>
<path d="M476.5,309 L513,319.6"/>
<path d="M482,340.300 L501.5,346.5"/>
<path d="M455,357.500 L490,374.2"/>
<path d="M336.200,637.500 L362,638.500"/>
<path d="M343.8,660.7 L362,660.7"/>
<path d="M303.500,677.500 L328.500,687.800"/>
<path d="M287,686.200 L316,697.700"/>
<path d="M261.6,698 L311.5,719.6"/>
<path d="M235,713 L253,769.6"/>
<path d="M383,728 L406,753"/>
<path d="M481.5,664.500 L512,678"/>
<!-- bracket for 1..5 -->
<path d="M329.5,763.5 L371,770.5 L371,838.5"/>
<path d="M322.500,793.300 L337,791.200 M353,789 L371,787"/>
<path d="M320.600,810 L337,808.200 M353,806.5 L391,803"/>
<path d="M317.800,828.200 L337,826.200 M353,823.8 L371,822"/>
<path d="M316,842.600 L337,841 M353,839.5 L371,838.7"/>
</g>

<!-- 95_code.svg -->
<g id="fwd">
<path class="w" stroke-width="1.700" d="M64.1,841.7 L74.5,821.3 L77.7,824.5 L102.2,810.9 L104.9,812.3 L104.9,830 L79,843.6 L79,850.4 Z"/>
<path class="l" stroke-width="1.400" d="M77.7,826.3 L102.2,813.6 L102.600,829 L78.600,842.200 Z M102.2,810.9 L102.2,813.6 M102.600,829 L104.900,830 M66.300,840.800 L75.400,823.600 M77.700,824.500 L77.700,826.300 M78.600,842.200 L79,843.600"/>
<g fill="none" stroke="#111" stroke-width="2.700" stroke-linecap="butt" stroke-linejoin="miter">
<path d="M84.300,827.500 L79.300,829.900 L78.400,840.600 M79,834.700 L83,832.800"/>
<path d="M85.500,826.500 L86.400,835.800 L89.300,829.600 L91,833.300 L93.800,822.300"/>
<path d="M95.500,821.600 L95,832 C98,830.800 100.300,829.500 101.200,827 C101.900,824.500 101.900,822 101,820.200 C99.800,819 97.500,820.300 95.500,821.600 Z"/>
</g>
</g>

<g id="labels">
<g class="t" stroke-width="1.90"><g transform="translate(207.55,119.80) scale(0.8500,0.8400)"><path d="M0.4,2.9 C0.4,0.8 2,0 4,0 C6.4,0 7.8,1.1 7.8,2.7 C7.8,4.4 6,5.3 4,6.3 C1.8,7.4 0.3,8.4 0.3,10 L8,10" vector-effect="non-scaling-stroke"/></g><g transform="translate(218.05,119.80) scale(1.0500,0.8400)"><ellipse cx="4" cy="5" rx="4" ry="5" vector-effect="non-scaling-stroke"/></g></g>
<g class="t" stroke-width="1.90"><g transform="translate(107.85,180.30) scale(0.8500,0.8400)"><path d="M0.4,2.9 C0.4,0.8 2,0 4,0 C6.4,0 7.8,1.1 7.8,2.7 C7.8,4.4 6,5.3 4,6.3 C1.8,7.4 0.3,8.4 0.3,10 L8,10" vector-effect="non-scaling-stroke"/></g><g transform="translate(118.35,180.30) scale(0.8500,0.8400)"><path d="M0.4,2.9 C0.4,0.8 2,0 4,0 C6.4,0 7.8,1.1 7.8,2.7 C7.8,4.4 6,5.3 4,6.3 C1.8,7.4 0.3,8.4 0.3,10 L8,10" vector-effect="non-scaling-stroke"/></g></g>
<g class="t" stroke-width="1.90"><g transform="translate(104.65,233.30) scale(0.8500,0.8400)"><path d="M0.4,2.9 C0.4,0.8 2,0 4,0 C6.4,0 7.8,1.1 7.8,2.7 C7.8,4.4 6,5.3 4,6.3 C1.8,7.4 0.3,8.4 0.3,10 L8,10" vector-effect="non-scaling-stroke"/></g><g transform="translate(115.15,233.30) scale(0.9000,0.8400)"><path d="M6,10 L6,0 L0.2,7 L8,7" vector-effect="non-scaling-stroke"/></g></g>
<g class="t" stroke-width="1.90"><g transform="translate(72.30,256.30) scale(0.8500,0.8400)"><path d="M0.4,2.9 C0.4,0.8 2,0 4,0 C6.4,0 7.8,1.1 7.8,2.7 C7.8,4.4 6,5.3 4,6.3 C1.8,7.4 0.3,8.4 0.3,10 L8,10" vector-effect="non-scaling-stroke"/></g><g transform="translate(82.80,256.30) scale(0.8625,0.8400)"><path d="M0.5,1.9 C1.2,0.6 2.4,0 4,0 C6.2,0 7.5,1 7.5,2.5 C7.5,3.9 6.2,4.7 3.6,4.7 C6.4,4.7 7.9,5.7 7.9,7.3 C7.9,8.9 6.4,10 4,10 C2.2,10 0.8,9.3 0.2,8" vector-effect="non-scaling-stroke"/></g></g>
<g class="t" stroke-width="1.90"><g transform="translate(358.45,212.80) scale(0.8500,0.8400)"><path d="M0.4,2.9 C0.4,0.8 2,0 4,0 C6.4,0 7.8,1.1 7.8,2.7 C7.8,4.4 6,5.3 4,6.3 C1.8,7.4 0.3,8.4 0.3,10 L8,10" vector-effect="non-scaling-stroke"/></g><g transform="translate(370.55,212.80) scale(1.0000,0.8400)"><path d="M0,0 L0,10" vector-effect="non-scaling-stroke"/></g></g>
<g class="t" stroke-width="1.90"><g transform="translate(572.85,86.80) scale(1.0000,0.8400)"><path d="M0,0 L0,10" vector-effect="non-scaling-stroke"/></g><g transform="translate(578.15,86.80) scale(0.8750,0.8400)"><path transform="rotate(180 4 5)" d="M7.2,1 C6.3,0.3 5.2,0 4.2,0 C1.5,0 0.3,2.4 0.3,6 C0.3,8.7 1.7,10 4,10 C6.3,10 7.8,8.8 7.8,6.9 C7.8,5 6.3,3.9 4.1,3.9 C2,3.9 0.5,5 0.3,6.6" vector-effect="non-scaling-stroke"/></g></g>
<g class="t" stroke-width="1.90"><g transform="translate(556.95,122.90) scale(1.0000,0.8400)"><path d="M0,0 L0,10" vector-effect="non-scaling-stroke"/></g><g transform="translate(562.25,122.90) scale(0.8750,0.8400)"><ellipse cx="4" cy="2.4" rx="3.3" ry="2.4" vector-effect="non-scaling-stroke"/><ellipse cx="4" cy="7.4" rx="3.9" ry="2.6" vector-effect="non-scaling-stroke"/></g></g>
<g class="t" stroke-width="1.90"><g transform="translate(583.45,169.70) scale(1.0000,0.8400)"><path d="M0,0 L0,10" vector-effect="non-scaling-stroke"/></g><g transform="translate(588.75,169.70) scale(0.8750,0.8400)"><path d="M7.2,1 C6.3,0.3 5.2,0 4.2,0 C1.5,0 0.3,2.4 0.3,6 C0.3,8.7 1.7,10 4,10 C6.3,10 7.8,8.8 7.8,6.9 C7.8,5 6.3,3.9 4.1,3.9 C2,3.9 0.5,5 0.3,6.6" vector-effect="non-scaling-stroke"/></g></g>
<g class="t" stroke-width="1.90"><g transform="translate(556.35,232.90) scale(1.0000,0.8400)"><path d="M0,0 L0,10" vector-effect="non-scaling-stroke"/></g><g transform="translate(561.65,232.90) scale(0.8500,0.8400)"><path d="M0.2,0 L7.8,0 L3.2,10" vector-effect="non-scaling-stroke"/></g></g>
<g class="t" stroke-width="1.90"><g transform="translate(532.95,285.70) scale(1.0000,0.8400)"><path d="M0,0 L0,10" vector-effect="non-scaling-stroke"/></g><g transform="translate(538.25,285.70) scale(0.9000,0.8400)"><path d="M6,10 L6,0 L0.2,7 L8,7" vector-effect="non-scaling-stroke"/></g></g>
<g class="t" stroke-width="1.90"><g transform="translate(518.50,318.40) scale(1.0000,0.8400)"><path d="M0,0 L0,10" vector-effect="non-scaling-stroke"/></g><g transform="translate(523.80,318.40) scale(0.8625,0.8400)"><path d="M0.5,1.9 C1.2,0.6 2.4,0 4,0 C6.2,0 7.5,1 7.5,2.5 C7.5,3.9 6.2,4.7 3.6,4.7 C6.4,4.7 7.9,5.7 7.9,7.3 C7.9,8.9 6.4,10 4,10 C2.2,10 0.8,9.3 0.2,8" vector-effect="non-scaling-stroke"/></g></g>
<g class="t" stroke-width="1.90"><g transform="translate(505.25,347.00) scale(1.0000,0.8400)"><path d="M0,0 L0,10" vector-effect="non-scaling-stroke"/></g><g transform="translate(510.55,347.00) scale(0.8250,0.8400)"><path d="M7.4,0 L1.3,0 L0.8,4.6 C1.7,3.9 2.8,3.6 4,3.6 C6.4,3.6 7.9,4.8 7.9,6.8 C7.9,8.7 6.4,10 4,10 C2.2,10 0.8,9.3 0.2,8" vector-effect="non-scaling-stroke"/></g></g>
<g class="t" stroke-width="1.90"><g transform="translate(493.25,373.20) scale(1.0000,0.8400)"><path d="M0,0 L0,10" vector-effect="non-scaling-stroke"/></g><g transform="translate(498.55,373.20) scale(0.8500,0.8400)"><path d="M0.4,2.9 C0.4,0.8 2,0 4,0 C6.4,0 7.8,1.1 7.8,2.7 C7.8,4.4 6,5.3 4,6.3 C1.8,7.4 0.3,8.4 0.3,10 L8,10" vector-effect="non-scaling-stroke"/></g></g>
<g class="t" stroke-width="1.90"><g transform="translate(365.75,633.80) scale(0.8500,0.8400)"><path d="M0.4,2.9 C0.4,0.8 2,0 4,0 C6.4,0 7.8,1.1 7.8,2.7 C7.8,4.4 6,5.3 4,6.3 C1.8,7.4 0.3,8.4 0.3,10 L8,10" vector-effect="non-scaling-stroke"/></g><g transform="translate(376.25,633.80) scale(0.8750,0.8400)"><path d="M7.2,1 C6.3,0.3 5.2,0 4.2,0 C1.5,0 0.3,2.4 0.3,6 C0.3,8.7 1.7,10 4,10 C6.3,10 7.8,8.8 7.8,6.9 C7.8,5 6.3,3.9 4.1,3.9 C2,3.9 0.5,5 0.3,6.6" vector-effect="non-scaling-stroke"/></g></g>
<g class="t" stroke-width="1.90"><g transform="translate(364.45,656.30) scale(0.8500,0.8400)"><path d="M0.4,2.9 C0.4,0.8 2,0 4,0 C6.4,0 7.8,1.1 7.8,2.7 C7.8,4.4 6,5.3 4,6.3 C1.8,7.4 0.3,8.4 0.3,10 L8,10" vector-effect="non-scaling-stroke"/></g><g transform="translate(374.95,656.30) scale(0.8250,0.8400)"><path d="M7.4,0 L1.3,0 L0.8,4.6 C1.7,3.9 2.8,3.6 4,3.6 C6.4,3.6 7.9,4.8 7.9,6.8 C7.9,8.7 6.4,10 4,10 C2.2,10 0.8,9.3 0.2,8" vector-effect="non-scaling-stroke"/></g></g>
<g class="t" stroke-width="1.90"><g transform="translate(294.50,666.30) scale(0.8750,0.8400)"><ellipse cx="4" cy="2.4" rx="3.3" ry="2.4" vector-effect="non-scaling-stroke"/><ellipse cx="4" cy="7.4" rx="3.9" ry="2.6" vector-effect="non-scaling-stroke"/></g></g>
<g class="t" stroke-width="1.90"><g transform="translate(275.50,676.30) scale(0.8750,0.8400)"><path transform="rotate(180 4 5)" d="M7.2,1 C6.3,0.3 5.2,0 4.2,0 C1.5,0 0.3,2.4 0.3,6 C0.3,8.7 1.7,10 4,10 C6.3,10 7.8,8.8 7.8,6.9 C7.8,5 6.3,3.9 4.1,3.9 C2,3.9 0.5,5 0.3,6.6" vector-effect="non-scaling-stroke"/></g></g>
<g class="t" stroke-width="1.90"><g transform="translate(253.10,688.80) scale(0.8500,0.8400)"><path d="M0.2,0 L7.8,0 L3.2,10" vector-effect="non-scaling-stroke"/></g></g>
<g class="t" stroke-width="1.90"><g transform="translate(228.50,700.30) scale(0.8750,0.8400)"><path d="M7.2,1 C6.3,0.3 5.2,0 4.2,0 C1.5,0 0.3,2.4 0.3,6 C0.3,8.7 1.7,10 4,10 C6.3,10 7.8,8.8 7.8,6.9 C7.8,5 6.3,3.9 4.1,3.9 C2,3.9 0.5,5 0.3,6.6" vector-effect="non-scaling-stroke"/></g></g>
<g class="t" stroke-width="1.90"><g transform="translate(403.15,756.80) scale(1.0000,0.8400)"><path d="M0,0 L0,10" vector-effect="non-scaling-stroke"/></g><g transform="translate(408.45,756.80) scale(1.0500,0.8400)"><ellipse cx="4" cy="5" rx="4" ry="5" vector-effect="non-scaling-stroke"/></g></g>
<g class="t" stroke-width="1.90"><g transform="translate(516.50,678.30) scale(1.0000,0.8400)"><path d="M0,0 L0,10" vector-effect="non-scaling-stroke"/></g><g transform="translate(526.50,678.30) scale(1.0000,0.8400)"><path d="M0,0 L0,10" vector-effect="non-scaling-stroke"/></g></g>
<g class="t" stroke-width="1.90"><g transform="translate(341.10,783.80) scale(0.8500,0.8400)"><path d="M0.4,2.9 C0.4,0.8 2,0 4,0 C6.4,0 7.8,1.1 7.8,2.7 C7.8,4.4 6,5.3 4,6.3 C1.8,7.4 0.3,8.4 0.3,10 L8,10" vector-effect="non-scaling-stroke"/></g></g>
<g class="t" stroke-width="1.90"><g transform="translate(341.05,802.30) scale(0.8625,0.8400)"><path d="M0.5,1.9 C1.2,0.6 2.4,0 4,0 C6.2,0 7.5,1 7.5,2.5 C7.5,3.9 6.2,4.7 3.6,4.7 C6.4,4.7 7.9,5.7 7.9,7.3 C7.9,8.9 6.4,10 4,10 C2.2,10 0.8,9.3 0.2,8" vector-effect="non-scaling-stroke"/></g></g>
<g class="t" stroke-width="1.90"><g transform="translate(341.20,819.30) scale(0.8250,0.8400)"><path d="M7.4,0 L1.3,0 L0.8,4.6 C1.7,3.9 2.8,3.6 4,3.6 C6.4,3.6 7.9,4.8 7.9,6.8 C7.9,8.7 6.4,10 4,10 C2.2,10 0.8,9.3 0.2,8" vector-effect="non-scaling-stroke"/></g></g>
<g class="t" stroke-width="1.90"><g transform="translate(340.90,834.80) scale(0.9000,0.8400)"><path d="M6,10 L6,0 L0.2,7 L8,7" vector-effect="non-scaling-stroke"/></g></g>
<g class="t" stroke-width="1.90"><g transform="translate(397.00,797.80) scale(1.0000,0.8400)"><path d="M0,0 L0,10" vector-effect="non-scaling-stroke"/></g></g>
<g class="t" stroke-width="2.00"><g transform="translate(46.98,866.76) scale(0.7159,0.6972)"><path d="M0.5,1.9 C1.2,0.6 2.4,0 4,0 C6.2,0 7.5,1 7.5,2.5 C7.5,3.9 6.2,4.7 3.6,4.7 C6.4,4.7 7.9,5.7 7.9,7.3 C7.9,8.9 6.4,10 4,10 C2.2,10 0.8,9.3 0.2,8" vector-effect="non-scaling-stroke"/></g><g transform="translate(56.73,866.76) scale(0.5914,0.6972)"><path d="M6.5,0 L6.5,7.2 C6.5,9 5.2,10 3.5,10 C1.8,10 0.6,9 0.4,7.3" vector-effect="non-scaling-stroke"/></g><g transform="translate(65.49,866.76) scale(0.7989,0.6972)"><path d="M0.3,10 L0.3,0 L4,6.8 L7.7,0 L7.7,10" vector-effect="non-scaling-stroke"/></g><g transform="translate(75.91,866.76) scale(0.7055,0.6972)"><path d="M0.4,2.9 C0.4,0.8 2,0 4,0 C6.4,0 7.8,1.1 7.8,2.7 C7.8,4.4 6,5.3 4,6.3 C1.8,7.4 0.3,8.4 0.3,10 L8,10" vector-effect="non-scaling-stroke"/></g><g transform="translate(85.57,866.76) scale(1.0000,0.6972)"><path d="M0,0 L0,10" vector-effect="non-scaling-stroke"/></g><g transform="translate(89.60,866.76) scale(0.8715,0.6972)"><ellipse cx="4" cy="5" rx="4" ry="5" vector-effect="non-scaling-stroke"/></g><g transform="translate(100.60,866.76) scale(0.8715,0.6972)"><ellipse cx="4" cy="5" rx="4" ry="5" vector-effect="non-scaling-stroke"/></g><g transform="translate(111.60,866.76) scale(0.5914,0.6972)"><path d="M1.3,5.6 L6.7,5.6" vector-effect="non-scaling-stroke"/></g><g transform="translate(120.35,866.76) scale(0.8715,0.6972)"><ellipse cx="4" cy="5" rx="4" ry="5" vector-effect="non-scaling-stroke"/></g><g transform="translate(131.35,866.76) scale(0.8715,0.6972)"><ellipse cx="4" cy="5" rx="4" ry="5" vector-effect="non-scaling-stroke"/></g><g transform="translate(142.35,866.76) scale(0.7470,0.6972)"><path d="M6,10 L6,0 L0.2,7 L8,7" vector-effect="non-scaling-stroke"/></g><g transform="translate(152.35,866.76) scale(0.8715,0.6972)"><ellipse cx="4" cy="5" rx="4" ry="5" vector-effect="non-scaling-stroke"/></g></g>
</g>
</svg>
</body></html>
